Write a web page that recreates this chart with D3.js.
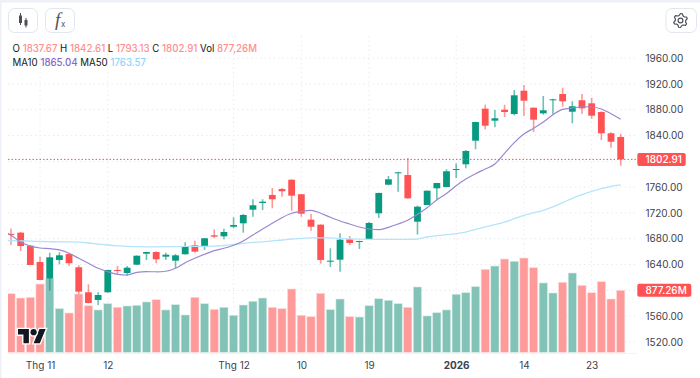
<!DOCTYPE html>
<html>
<head>
<meta charset="utf-8">
<script src="https://cdn.jsdelivr.net/npm/d3@7"></script>
<style>
  html, body { margin: 0; padding: 0; background: #fff; }
  svg { display: block; font-family: Inter, "Noto Sans", sans-serif; }
</style>
</head>
<body>
<div id="chart"></div>
<script>
const dates = ["10-29","10-30","10-31","11-03","11-04","11-05","11-06","11-07","11-10","11-11","11-12","11-13","11-14","11-17","11-18","11-19","11-20","11-21","11-24","11-25","11-26","11-27","11-28","12-01","12-02","12-03","12-04","12-05","12-08","12-09","12-10","12-11","12-12","12-15","12-16","12-17","12-18","12-19","12-22","12-23","12-24","12-25","12-26","12-29","12-30","12-31","01-05","01-06","01-07","01-08","01-09","01-12","01-13","01-14","01-15","01-16","01-19","01-20","01-21","01-22","01-23","01-26","01-27","01-28"];

const opens = [1687.5,1689.4,1669.2,1644.0,1618.1,1647.1,1656.4,1635.8,1597.0,1585.1,1597.0,1631.6,1626.9,1639.8,1656.8,1659.4,1652.2,1646.0,1655.9,1669.9,1667.7,1685.3,1683.8,1698.6,1703.9,1725.0,1735.4,1747.8,1757.0,1771.4,1748.9,1709.5,1701.8,1644.4,1647.5,1679.1,1675.4,1679.1,1719.4,1763.7,1781.4,1778.7,1706.4,1732.3,1758.1,1760.1,1786.5,1795.3,1831.9,1881.5,1862.9,1879.9,1873.2,1909.3,1883.0,1874.3,1894.5,1904.2,1876.8,1894.5,1889.8,1876.3,1843.4,1837.67];
const highs = [1695.8,1690.4,1670.3,1652.2,1658.4,1659.0,1657.4,1638.9,1609.4,1597.0,1632.0,1637.8,1637.8,1654.2,1659.9,1660.5,1658.4,1656.4,1674.5,1677.0,1681.1,1694.6,1695.5,1713.2,1718.3,1741.1,1741.1,1758.6,1758.6,1771.9,1749.3,1718.3,1702.2,1665.2,1688.4,1684.2,1676.8,1705.9,1751.3,1777.2,1783.8,1805.0,1731.5,1754.9,1766.8,1787.6,1796.5,1817.5,1861.3,1887.6,1879.4,1887.6,1910.4,1918.2,1883.5,1901.1,1897.0,1914.0,1892.9,1904.2,1898.5,1877.4,1844.9,1842.61];
const lows = [1670.3,1661.0,1638.9,1615.6,1599.5,1640.4,1637.8,1594.4,1580.0,1577.3,1596.6,1623.8,1622.3,1639.3,1647.1,1642.0,1647.1,1634.7,1655.6,1658.4,1662.6,1680.7,1679.1,1696.2,1689.4,1714.2,1724.5,1727.2,1745.1,1723.4,1714.2,1692.4,1641.3,1636.2,1628.9,1670.3,1664.0,1678.0,1712.1,1762.8,1752.9,1742.0,1686.5,1731.8,1740.0,1759.7,1774.0,1789.1,1818.6,1849.5,1852.6,1868.6,1871.2,1870.1,1845.3,1872.2,1872.2,1884.5,1858.8,1873.7,1866.0,1833.0,1821.0,1793.13];
const closes = [1687.0,1668.7,1639.3,1616.1,1651.2,1654.3,1642.0,1598.0,1580.4,1592.8,1631.6,1630.0,1635.1,1653.7,1659.4,1648.1,1655.3,1654.3,1667.2,1660.0,1680.7,1683.2,1690.4,1701.3,1716.8,1731.8,1737.4,1741.1,1753.5,1746.7,1718.8,1698.6,1647.1,1646.0,1678.5,1673.4,1676.5,1704.4,1750.9,1772.1,1782.9,1742.6,1729.6,1754.4,1766.3,1784.5,1788.0,1815.9,1860.8,1855.1,1866.6,1876.3,1902.2,1893.9,1864.4,1879.0,1896.0,1892.9,1885.2,1882.0,1870.6,1843.4,1830.3,1802.91];
const volumes = [829,768,778,966,1041,617,556,825,659,599,688,637,655,665,712,744,599,674,528,778,688,608,637,524,669,722,768,637,617,896,524,504,835,603,754,504,499,659,758,736,688,637,924,514,560,599,821,843,928,1174,1221,1320,1288,1334,1197,981,839,991,1122,948,843,999,754,877.26];

// first entry of each MA is the day just left of the visible chart
const ma10 = [1692,1685.3,1674.9,1668.7,1665.6,1664.6,1662.6,1657.4,1649.7,1641.9,1634.2,1628.9,1624.9,1623.8,1628,1628.9,1628.8,1629.6,1634.2,1642.9,1649.7,1655.9,1661.5,1665.2,1669.9,1676.5,1685.8,1695.1,1703.9,1712.6,1719.4,1722.5,1724,1719.4,1713.2,1707.5,1702.8,1698.2,1695.1,1694,1697.7,1702.8,1708.5,1717.9,1728.1,1740,1750,1762.2,1772.5,1780.8,1788,1795.8,1812.3,1828.8,1842.3,1851.1,1860.8,1872.2,1880.5,1882.5,1884.5,1884.1,1881,1873.7,1865.04];
const ma50 = [1677.1,1677,1676.8,1676.2,1675.7,1675.4,1675.2,1675.2,1674.6,1673.4,1671.8,1670.3,1669,1668,1667.7,1667.5,1667.5,1667.7,1667.8,1668,1668.1,1668.3,1668.4,1669.5,1670.8,1672.8,1674.2,1675.2,1676.8,1678,1679.6,1680.5,1681.4,1681.4,1681.1,1680.7,1679.9,1679.3,1679.1,1679.1,1679.1,1679.1,1679.1,1679.6,1682.7,1684.7,1686.3,1687.8,1690.4,1694.6,1698.2,1701.7,1705.9,1711,1716.3,1720.3,1724,1729.2,1735.8,1742.6,1748.2,1753.5,1757.5,1761.2,1763.57];

const priceTicks = [1960,1920,1880,1840,1800,1760,1720,1680,1640,1600,1560,1520];
const hiddenPriceLabels = [1800,1600];
const timeTicks = ["11-03","11-12","12-01","12-10","12-19","01-05","01-14","01-23"];
const timeLabels = ["Thg 11","12","Thg 12","10","19","2026","14","23"];

const width = 700, height = 378;
const green = "#089981", red = "#ff5252";
const left = 8, paneRight = 637, paneBottom = 353;
const axisFont = 10;

const svg = d3.select("#chart").append("svg")
  .attr("width", width)
  .attr("height", height);

const x = d3.scaleLinear().domain([0, dates.length - 1]).range([11, 620.7]);
const xTime = d3.scalePoint().domain(dates).range([11, 620.7]);
const y = d3.scaleLinear().domain([1520, 1960]).range([342, 58]);
const yVol = d3.scaleLinear().domain([0, 1500]).range([352.3, 246.3]);

// page edges
svg.append("rect").attr("width", width).attr("height", 2.5).attr("fill", "#eef0f7");
svg.append("rect").attr("width", 1.5).attr("height", height).attr("fill", "#eef0f7");

svg.append("defs").append("clipPath").attr("id", "pane")
  .append("rect").attr("x", left).attr("y", 36).attr("width", paneRight - left).attr("height", paneBottom - 36);

// grid
const grid = svg.append("g").attr("stroke", "#e9ebf0").attr("stroke-dasharray", "1.5 3").attr("stroke-width", 1);
grid.selectAll(".h").data(priceTicks).enter().append("line")
  .attr("x1", left).attr("x2", paneRight)
  .attr("y1", d => y(d)).attr("y2", d => y(d));
grid.selectAll(".v").data(timeTicks).enter().append("line")
  .attr("x1", d => xTime(d)).attr("x2", d => xTime(d))
  .attr("y1", 36).attr("y2", paneBottom);

const pane = svg.append("g").attr("clip-path", "url(#pane)");
const idx = d3.range(dates.length);
const isUp = i => closes[i] >= opens[i];

// volume
pane.append("g").selectAll("rect").data(idx).enter().append("rect")
  .attr("x", i => x(i) - 4.1)
  .attr("width", 8.2)
  .attr("y", i => yVol(volumes[i]))
  .attr("height", i => yVol(0) - yVol(volumes[i]))
  .attr("fill", i => isUp(i) ? "#82c2b7" : "#ff9a9a")
  .attr("stroke", i => isUp(i) ? "#d3ebe6" : "#ffdada")
  .attr("stroke-width", 0.6);

// candles
const candles = pane.append("g");
candles.selectAll("line").data(idx).enter().append("line")
  .attr("x1", i => x(i)).attr("x2", i => x(i))
  .attr("y1", i => y(highs[i])).attr("y2", i => y(lows[i]))
  .attr("stroke", i => isUp(i) ? green : red)
  .attr("stroke-opacity", 0.6)
  .attr("stroke-width", 1.6);
candles.selectAll("rect").data(idx).enter().append("rect")
  .attr("x", i => x(i) - 3.4)
  .attr("width", 6.8)
  .attr("y", i => y(Math.max(opens[i], closes[i])))
  .attr("height", i => Math.max(1, Math.abs(y(opens[i]) - y(closes[i]))))
  .attr("fill", i => isUp(i) ? green : red);

// moving averages
const maLine = d3.line().x((d, i) => x(i - 1)).y(d => y(d)).curve(d3.curveMonotoneX);
pane.append("path").datum(ma50).attr("d", maLine)
  .attr("fill", "none").attr("stroke", "#b5e4fb").attr("stroke-width", 1.3);
pane.append("path").datum(ma10).attr("d", maLine)
  .attr("fill", "none").attr("stroke", "#9a88d0").attr("stroke-width", 1.2);

// last price line
const lastClose = closes[closes.length - 1];
svg.append("line")
  .attr("x1", left).attr("x2", paneRight)
  .attr("y1", y(lastClose)).attr("y2", y(lastClose))
  .attr("stroke", red).attr("stroke-width", 1).attr("stroke-dasharray", "1.5 2");

svg.append("line").attr("x1", left).attr("x2", paneRight)
  .attr("y1", paneBottom + 0.5).attr("y2", paneBottom + 0.5)
  .attr("stroke", "#f0f3fa");

// axes
const yAxis = d3.axisRight(y)
  .tickValues(priceTicks.filter(d => !hiddenPriceLabels.includes(d)))
  .tickSize(0).tickPadding(0)
  .tickFormat(d3.format(".2f"));
const yG = svg.append("g").attr("transform", "translate(645.5,0)").call(yAxis);
yG.select(".domain").remove();
yG.selectAll("text").attr("font-size", axisFont).attr("fill", "#3d414c")
  .attr("font-family", "Inter, sans-serif");

const xAxis = d3.axisBottom(xTime)
  .tickValues(timeTicks)
  .tickSize(0).tickPadding(0)
  .tickFormat((d, i) => timeLabels[i]);
const xG = svg.append("g").attr("transform", "translate(0,361.5)").call(xAxis);
xG.select(".domain").remove();
xG.selectAll("text").attr("font-size", axisFont).attr("fill", "#3d414c")
  .attr("font-family", "Inter, sans-serif")
  .attr("font-weight", (d, i) => timeLabels[i] === "2026" ? 700 : 400);

// price and volume tags
function tag(yPos, w, label) {
  svg.append("rect").attr("x", 637.3).attr("y", yPos - 6.5).attr("width", w).attr("height", 13)
    .attr("rx", 2).attr("fill", red);
  svg.append("text").attr("x", 645.5).attr("y", yPos).attr("dy", "0.36em")
    .attr("font-size", axisFont).attr("font-weight", 500).attr("fill", "#fff").text(label);
}
tag(y(lastClose), 48.4, d3.format(".2f")(lastClose));
tag(yVol(volumes[volumes.length - 1]), 54, d3.format(".2f")(volumes[volumes.length - 1]) + "M");

// legend
const last = closes.length - 1;
const legendText = "#131722", legendRed = "#ff8f8f";
const row1 = [["O", opens[last]], ["H", highs[last]], ["L", lows[last]], ["C", closes[last]]];
function legendRow(yPos, items) {
  const t = svg.append("text").attr("x", 12.5).attr("y", yPos).attr("font-size", 9.7).attr("xml:space", "preserve");
  items.forEach(([label, value, color]) => {
    t.append("tspan").attr("fill", legendText).text(label + " ");
    t.append("tspan").attr("fill", color).attr("font-weight", 500).text(value + " ");
  });
}
legendRow(51.8, row1.map(d => [d[0], d3.format(".2f")(d[1]), legendRed])
  .concat([["Vol", "877,26M", legendRed]]));
legendRow(66.2, [
  ["MA10", d3.format(".2f")(ma10[ma10.length - 1]), "#8468c8"],
  ["MA50", d3.format(".2f")(ma50[ma50.length - 1]), "#8fd6fb"]
]);

// toolbar buttons
[[8.5, 29], [45.5, 29], [666, 30.5]].forEach(([bx, bw]) => {
  svg.append("rect").attr("x", bx).attr("y", 8.5).attr("width", bw).attr("height", 24)
    .attr("rx", 6).attr("fill", "#fff").attr("stroke", "#e3e6ef");
});
const icon = svg.append("g").attr("fill", "#4c4f58").attr("stroke", "#4c4f58");
icon.append("line").attr("x1", 20.5).attr("x2", 20.5).attr("y1", 13).attr("y2", 25);
icon.append("rect").attr("x", 19).attr("y", 15.5).attr("width", 3).attr("height", 7.5).attr("stroke", "none");
icon.append("line").attr("x1", 26).attr("x2", 26).attr("y1", 18).attr("y2", 27.5);
icon.append("rect").attr("x", 24.5).attr("y", 20).attr("width", 3).attr("height", 5.5).attr("stroke", "none");
svg.append("text").attr("x", 55).attr("y", 25.5).attr("font-family", "'Liberation Serif', serif")
  .attr("font-style", "italic").attr("font-size", 19).attr("fill", "#555").text("f");
svg.append("text").attr("x", 61).attr("y", 27).attr("font-size", 8).attr("fill", "#555").text("x");

// gear
const gearPts = d3.range(0, 24).map(k => [k * Math.PI / 12, [7, 7, 5.2, 5.2][k % 4]]);
svg.append("path")
  .attr("transform", "translate(680.5,20.5)")
  .attr("d", d3.lineRadial().curve(d3.curveLinearClosed)(gearPts))
  .attr("fill", "none").attr("stroke", "#4c4f58").attr("stroke-width", 1.2).attr("stroke-linejoin", "round");
svg.append("circle").attr("cx", 680.5).attr("cy", 20.5).attr("r", 2.4)
  .attr("fill", "none").attr("stroke", "#4c4f58").attr("stroke-width", 1.2);

// watermark
const logo = svg.append("g").attr("transform", "translate(18,326) scale(0.78)");
const logoParts = logo.append("g").attr("fill", "#131722").attr("stroke", "#fff").attr("stroke-width", 3.5).attr("paint-order", "stroke");
logoParts.append("path").attr("d", "M14 22H7V11H0V4h14v18zM28 22h-8l7.5-18h8L28 22z");
logoParts.append("circle").attr("cx", 20).attr("cy", 8).attr("r", 4);
</script>
</body>
</html>
